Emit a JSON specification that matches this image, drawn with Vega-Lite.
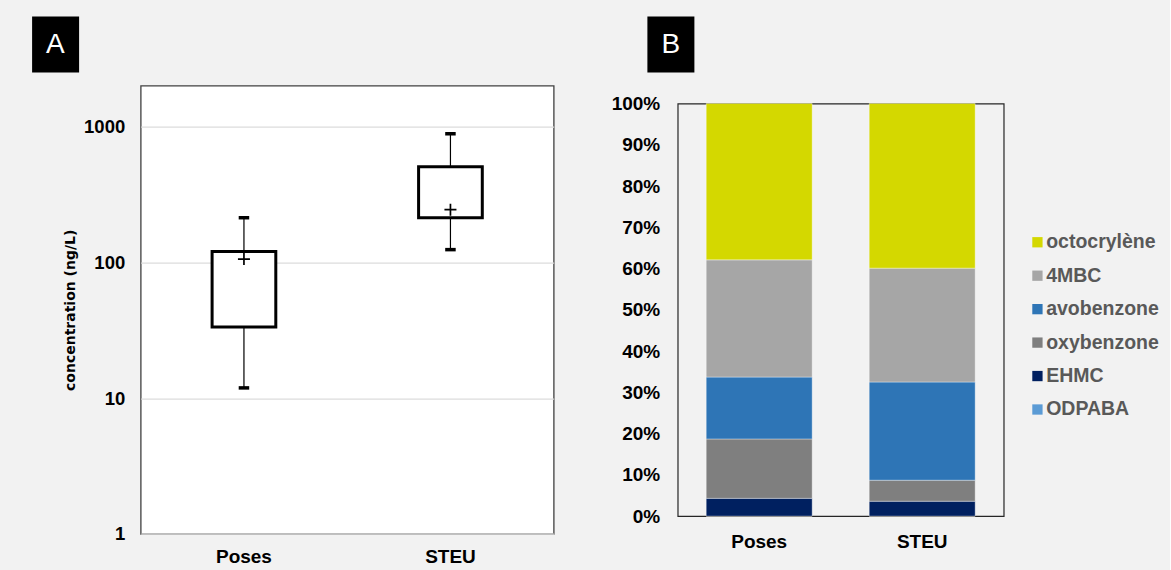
{
  "$schema": "https://vega.github.io/schema/vega-lite/v6.json",
  "background": "#f2f2f2",
  "padding": {"left": 30.7, "top": 15.3, "right": 9, "bottom": 3},
  "spacing": 124,
  "bounds": "flush",
  "center": true,
  "resolve": {"scale": {"shape": "independent", "color": "independent"}, "legend": {"shape": "independent", "color": "independent"}},
  "config": {
    "font": "Liberation Sans",
    "axis": {"labelFont": "Liberation Sans", "labelFontWeight": "bold", "labelColor": "black", "ticks": false, "domain": false, "grid": false},
    "legend": {"labelFont": "Liberation Sans"}
  },
  "hconcat": [
    {
      "width": 413,
      "height": 448.4,
      "view": {"fill": "white", "stroke": "#404040", "strokeWidth": 1.3},
      "data": {"values": [
        {"site": "Poses", "min": 11.9, "q1": 33.4, "q3": 120, "max": 213, "mean": 105.6},
        {"site": "STEU", "min": 124, "q1": 213, "q3": 505, "max": 884, "mean": 244}
      ]},
      "encoding": {
        "x": {"field": "site", "type": "nominal", "sort": ["Poses", "STEU"],
              "scale": {"paddingInner": 0.5, "paddingOuter": 0.25},
              "axis": {"title": null, "labelAngle": 0, "labelFontSize": 19, "labelPadding": 14}}
      },
      "layer": [
        {
          "mark": {"type": "rule", "color": "black", "strokeWidth": 1.2},
          "encoding": {
            "y": {"field": "min", "type": "quantitative",
                  "scale": {"type": "log", "domain": [1, 2000], "nice": false},
                  "axis": {"title": "concentration (ng/L)", "values": [1, 10, 100, 1000], "format": "d",
                           "grid": true, "gridColor": "#dcdcdc", "gridWidth": 1.2,
                           "labelFontSize": 18.5, "labelPadding": 16,
                           "titleFont": "DejaVu Sans", "titleFontWeight": "bold", "titleFontSize": 14,
                           "titleColor": "black", "titlePadding": 6}},
            "y2": {"field": "max"}
          }
        },
        {
          "mark": {"type": "tick", "color": "black", "thickness": 3.5, "size": 10.5, "opacity": 1},
          "encoding": {"y": {"field": "min", "type": "quantitative"}}
        },
        {
          "mark": {"type": "tick", "color": "black", "thickness": 3.5, "size": 10.5, "opacity": 1},
          "encoding": {"y": {"field": "max", "type": "quantitative"}}
        },
        {
          "mark": {"type": "bar", "fill": "white", "stroke": "black", "strokeWidth": 3, "size": 63.7},
          "encoding": {
            "y": {"field": "q1", "type": "quantitative"},
            "y2": {"field": "q3"}
          }
        },
        {
          "mark": {"type": "point", "shape": "M-1,0H1M0,-1V1", "filled": false, "size": 144, "stroke": "black", "strokeWidth": 1.7, "opacity": 1},
          "encoding": {"y": {"field": "mean", "type": "quantitative"}}
        },
        {
          "mark": {"type": "point", "opacity": 0},
          "encoding": {
            "shape": {"datum": "A", "type": "nominal", "scale": {"range": ["square"]},
                      "legend": {"title": null, "orient": "none", "legendX": -108.6, "legendY": -69,
                                 "fillColor": "black", "padding": 14, "symbolSize": 0.0001, "symbolOpacity": 0,
                                 "symbolStrokeWidth": 0, "labelOffset": -28, "labelColor": "white",
                                 "labelFontSize": 28, "labelFontWeight": "normal", "labelFont": "Liberation Sans"}}
          }
        }
      ]
    },
    {
      "width": 326,
      "height": 412.6,
      "view": {"fill": null, "stroke": "#262626", "strokeWidth": 1.2},
      "data": {"values": [
        {"site": "Poses", "compound": "ODPABA", "k": 1, "pct": 0},
        {"site": "Poses", "compound": "EHMC", "k": 2, "pct": 4.3},
        {"site": "Poses", "compound": "oxybenzone", "k": 3, "pct": 14.4},
        {"site": "Poses", "compound": "avobenzone", "k": 4, "pct": 15.0},
        {"site": "Poses", "compound": "4MBC", "k": 5, "pct": 28.4},
        {"site": "Poses", "compound": "octocrylène", "k": 6, "pct": 37.9},
        {"site": "STEU", "compound": "ODPABA", "k": 1, "pct": 0},
        {"site": "STEU", "compound": "EHMC", "k": 2, "pct": 3.6},
        {"site": "STEU", "compound": "oxybenzone", "k": 3, "pct": 5.1},
        {"site": "STEU", "compound": "avobenzone", "k": 4, "pct": 23.8},
        {"site": "STEU", "compound": "4MBC", "k": 5, "pct": 27.6},
        {"site": "STEU", "compound": "octocrylène", "k": 6, "pct": 39.9}
      ]},
      "encoding": {
        "x": {"field": "site", "type": "nominal", "sort": ["Poses", "STEU"],
              "scale": {"paddingInner": 0.35, "paddingOuter": 0.175},
              "axis": {"title": null, "labelAngle": 0, "labelFontSize": 19, "labelPadding": 16}}
      },
      "layer": [
        {
          "mark": {"type": "bar", "stroke": "white", "strokeWidth": 0.6, "strokeOpacity": 0.6},
          "encoding": {
            "y": {"field": "pct", "type": "quantitative", "stack": "normalize",
                  "scale": {"domain": [0, 1]},
                  "axis": {"title": null, "values": [0, 0.1, 0.2, 0.3, 0.4, 0.5, 0.6, 0.7, 0.8, 0.9, 1], "format": ".0%",
                           "labelFontSize": 19, "labelPadding": 18}},
            "color": {"field": "compound", "type": "nominal",
                      "scale": {"domain": ["octocrylène", "4MBC", "avobenzone", "oxybenzone", "EHMC", "ODPABA"],
                                "range": ["#d4d800", "#a6a6a6", "#2e75b6", "#7f7f7f", "#002060", "#5b9bd5"]},
                      "legend": {"title": null, "orient": "none", "legendX": 350, "legendY": 129,
                                 "padding": 0, "symbolType": "square", "symbolSize": 106, "symbolStrokeWidth": 0,
                                 "labelFontSize": 19.5, "labelFontWeight": "bold", "labelColor": "#595959",
                                 "labelOffset": -1, "rowPadding": 12.45}},
            "order": {"field": "k", "type": "quantitative"}
          }
        },
        {
          "mark": {"type": "point", "opacity": 0},
          "encoding": {
            "shape": {"datum": "B", "type": "nominal", "scale": {"range": ["square"]},
                      "legend": {"title": null, "orient": "none", "legendX": -30.3, "legendY": -87,
                                 "fillColor": "black", "padding": 14, "symbolSize": 0.0001, "symbolOpacity": 0,
                                 "symbolStrokeWidth": 0, "labelOffset": -28, "labelColor": "white",
                                 "labelFontSize": 28, "labelFontWeight": "normal", "labelFont": "Liberation Sans"}}
          }
        }
      ]
    }
  ]
}
